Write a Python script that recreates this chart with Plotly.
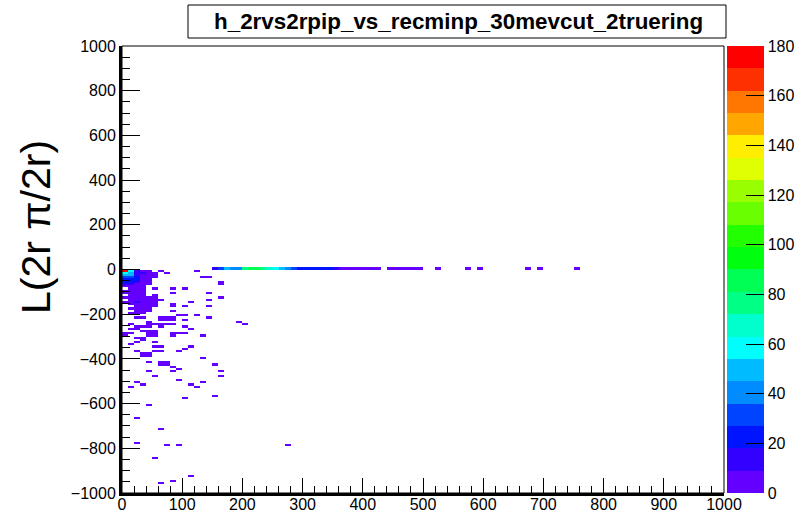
import plotly.graph_objects as go

# ---------------- data (10 x 10 bins, x 0..1000, y -1000..1000) ----------------
# row y in [0,10): long horizontal band
line_x = [150, 160, 170, 180, 190, 200, 210, 220, 230, 240, 250, 260, 270, 280, 290,
          300, 310, 320, 330, 340, 350, 360, 370, 380, 390, 400, 410, 420,
          440, 450, 460, 470, 480, 490, 520, 570, 590, 670, 690, 750]
line_n = [14, 30, 50, 40, 41, 76, 82, 85, 79, 68, 58, 48, 38, 33, 26,
          24, 23, 22, 21, 19, 15, 8, 6, 5, 7, 5, 4, 3,
          3, 4, 3, 2, 3, 2, 1, 1, 1, 1, 1, 1]

# dense core next to the origin (lower bin edges)
core_x = [0, 10, 20, 30, 40,
          0, 10, 20, 30, 40, 50,
          0, 10, 20, 30, 40, 50,
          0, 10, 20, 30, 40, 50,
          0, 10, 20, 30, 40,
          0, 10, 20, 30, 40,
          0, 10, 20, 30, 40,
          0, 10, 20, 30,
          10, 20, 30,
          0, 10, 20, 30,
          0, 10, 20, 30,
          10, 20, 30,
          0, 10, 20, 30, 40, 50,
          10, 20, 30, 40, 50,
          0, 10, 20, 30, 40, 50,
          10, 20, 30, 40, 50,
          20, 30, 40, 50,
          10, 20, 30, 40,
          20, 30, 40,
          10, 20, 30]
core_y = [-10] * 5 + [-20] * 6 + [-30] * 6 + [-40] * 6 + [-50] * 5 + [-60] * 5 + \
         [-70] * 5 + [-80] * 4 + [-90] * 3 + [-100] * 4 + [-110] * 4 + [-120] * 3 + \
         [-130] * 6 + [-140] * 5 + [-150] * 6 + [-160] * 5 + [-170] * 4 + [-180] * 4 + \
         [-190] * 3 + [-200] * 3
core_n = [176, 60, 12, 7, 4,
          58, 52, 14, 10, 6, 3,
          50, 47, 11, 8, 5, 2,
          34, 31, 21, 8, 4, 3,
          24, 23, 19, 7, 4,
          21, 20, 13, 6, 2,
          12, 14, 8, 5, 3,
          4, 8, 6, 4,
          6, 5, 3,
          5, 7, 4, 2,
          3, 6, 5, 3,
          5, 4, 2,
          4, 6, 7, 5, 3, 2,
          7, 8, 6, 4, 3,
          2, 6, 9, 6, 5, 3,
          5, 8, 7, 5, 4,
          6, 5, 4, 2,
          3, 5, 6, 3,
          4, 3, 2,
          2, 3, 2]

# isolated entries
scat_x = [60, 70, 120, 130, 140, 160, 160, 100, 80, 50, 80, 140, 140, 160, 50, 110, 60, 80, 80, 100, 140, 80,
          60, 70, 80, 60, 70, 80, 90, 100, 120, 20, 30,
          190, 200, 40, 40, 40, 50, 60, 60, 70, 80, 100, 100, 110, 140,
          10, 20, 30, 10, 20, 30,
          130, 40, 50, 40, 50, 40, 50, 80, 90, 100, 80, 0, 10, 0,
          20, 30, 30, 20, 50, 10, 50, 60,
          20, 50, 60, 90, 100, 110, 30, 40, 40, 30, 130,
          40, 60, 70, 60, 70, 80, 90, 150, 160, 80, 40, 160, 50,
          90, 20, 130, 30, 110, 10, 120, 150, 100, 40, 20, 60, 20, 70, 90, 270, 50, 110, 80, 60]
scat_y = [-10, -20, -10, -40, -40, -60, -70, -90, -90, -90, -110, -110, -140, -130, -120, -150, -140, -160, -170, -170, -170, -190,
          -220, -220, -220, -230, -230, -230, -210, -210, -210, -220, -220,
          -240, -250, -240, -250, -260, -250, -250, -260, -250, -250, -230, -260, -270, -220,
          -250, -260, -260, -270, -270, -280,
          -300, -280, -280, -290, -290, -300, -300, -290, -290, -290, -300, -290, -290, -300,
          -310, -310, -320, -330, -330, -340, -350, -350,
          -370, -370, -370, -370, -360, -350, -380, -380, -390, -390, -400,
          -420, -420, -420, -430, -430, -440, -450, -430, -460, -460, -460, -480, -480,
          -500, -510, -510, -520, -520, -530, -530, -570, -580, -610, -670, -720, -780, -790, -790, -790, -850, -930, -950, -960]
scat_n = [3] * len(scat_x)

z_ticks = [0, 20, 40, 60, 80, 100, 120, 140, 160, 180]
x_ticks = [0, 100, 200, 300, 400, 500, 600, 700, 800, 900, 1000]
y_ticks = [-1000, -800, -600, -400, -200, 0, 200, 400, 600, 800, 1000]

# ---------------- build the histogram grid ----------------
NX, NY = 100, 200
xc = [5 + 10 * i for i in range(NX)]
yc = [-995 + 10 * j for j in range(NY)]
z = [[None] * NX for _ in range(NY)]


def put(xs, ys, ns):
    for xv, yv, nv in zip(xs, ys, ns):
        i = int(xv // 10)
        j = int((yv + 1000) // 10)
        z[j][i] = nv


put(scat_x, scat_y, scat_n)
put(core_x, core_y, core_n)
put(line_x, [0] * len(line_x), line_n)

# ROOT "pretty" palette, 20 contour levels
pal = ["#6300ff", "#3300ff", "#0014ff", "#0044ff", "#008bff", "#00bbff", "#00fffc",
       "#00ffcc", "#00ff85", "#00ff55", "#00ff0e", "#22ff00", "#69ff00", "#99ff00",
       "#e0ff00", "#ffee00", "#ffa700", "#ff7700", "#ff3000", "#ff0000"]
cs = []
for k, c in enumerate(pal):
    cs.append([k / 20, c])
    cs.append([(k + 1) / 20, c])

FONT = "Liberation Sans, Arial, sans-serif"

fig = go.Figure()
fig.add_trace(go.Heatmap(
    x=xc, y=yc, z=z, zmin=0, zmax=180, colorscale=cs, hoverinfo="skip",
    colorbar=dict(x=(727 - 122) / 602, xanchor="left", xpad=0, ypad=0,
                  y=0.5, yanchor="middle", len=1, lenmode="fraction",
                  thickness=37, thicknessmode="pixels", outlinewidth=0,
                  tickmode="array", tickvals=z_ticks, ticks="inside", ticklen=18,
                  tickcolor="black", tickwidth=1,
                  tickfont=dict(family=FONT, size=16, color="black")),
))

fig.update_layout(
    width=798, height=513,
    margin=dict(l=122, r=74, t=46, b=20, autoexpand=False),
    paper_bgcolor="white", plot_bgcolor="white",
    font=dict(family=FONT, size=16, color="black"),
    xaxis=dict(range=[0, 1000], tickmode="array", tickvals=x_ticks, ticks="inside",
               ticklen=15, tickcolor="black", tickwidth=1, showline=True, linewidth=3,
               linecolor="black", showgrid=False, zeroline=False, ticklabelstandoff=-5,
               minor=dict(dtick=20, ticks="inside", ticklen=7, tickcolor="black", showgrid=False),
               tickfont=dict(family=FONT, size=16, color="black")),
    yaxis=dict(range=[-1000, 1000], tickmode="array", tickvals=y_ticks, ticks="inside",
               ticklen=18, tickcolor="black", tickwidth=1, showline=True, linewidth=3,
               linecolor="black", showgrid=False, zeroline=False,
               minor=dict(dtick=50, ticks="inside", ticklen=8, tickcolor="black", showgrid=False),
               tickfont=dict(family=FONT, size=16, color="black")),
    shapes=[
        dict(type="rect", xref="paper", yref="paper", x0=0, x1=1, y0=0, y1=1,
             line=dict(color="black", width=1), fillcolor="rgba(0,0,0,0)"),
        dict(type="rect", xref="paper", yref="paper",
             x0=(188 - 122) / 602, x1=(726 - 122) / 602,
             y0=(493 - 38) / 447, y1=(493 - 5) / 447,
             line=dict(color="black", width=1), fillcolor="white"),
        dict(type="line", xref="paper", yref="paper",
             x0=(763.5 - 122) / 602, x1=(763.5 - 122) / 602, y0=0, y1=1,
             line=dict(color="black", width=1)),
    ],
    annotations=[
        dict(text="<b>h_2rvs2rpip_vs_recminp_30mevcut_2truering</b>", xref="paper", yref="paper",
             x=(458 - 122) / 602, y=(493 - 21.5) / 447, xanchor="center", yanchor="middle",
             showarrow=False, font=dict(family=FONT, size=22.4, color="black")),
        dict(text="L(2r π/2r)", xref="paper", yref="paper",
             x=(36 - 122) / 602, y=(493 - 227) / 447, xanchor="center", yanchor="middle",
             textangle=-90, showarrow=False, font=dict(family=FONT, size=41, color="black")),
    ],
)

fig.write_html("out.html")
